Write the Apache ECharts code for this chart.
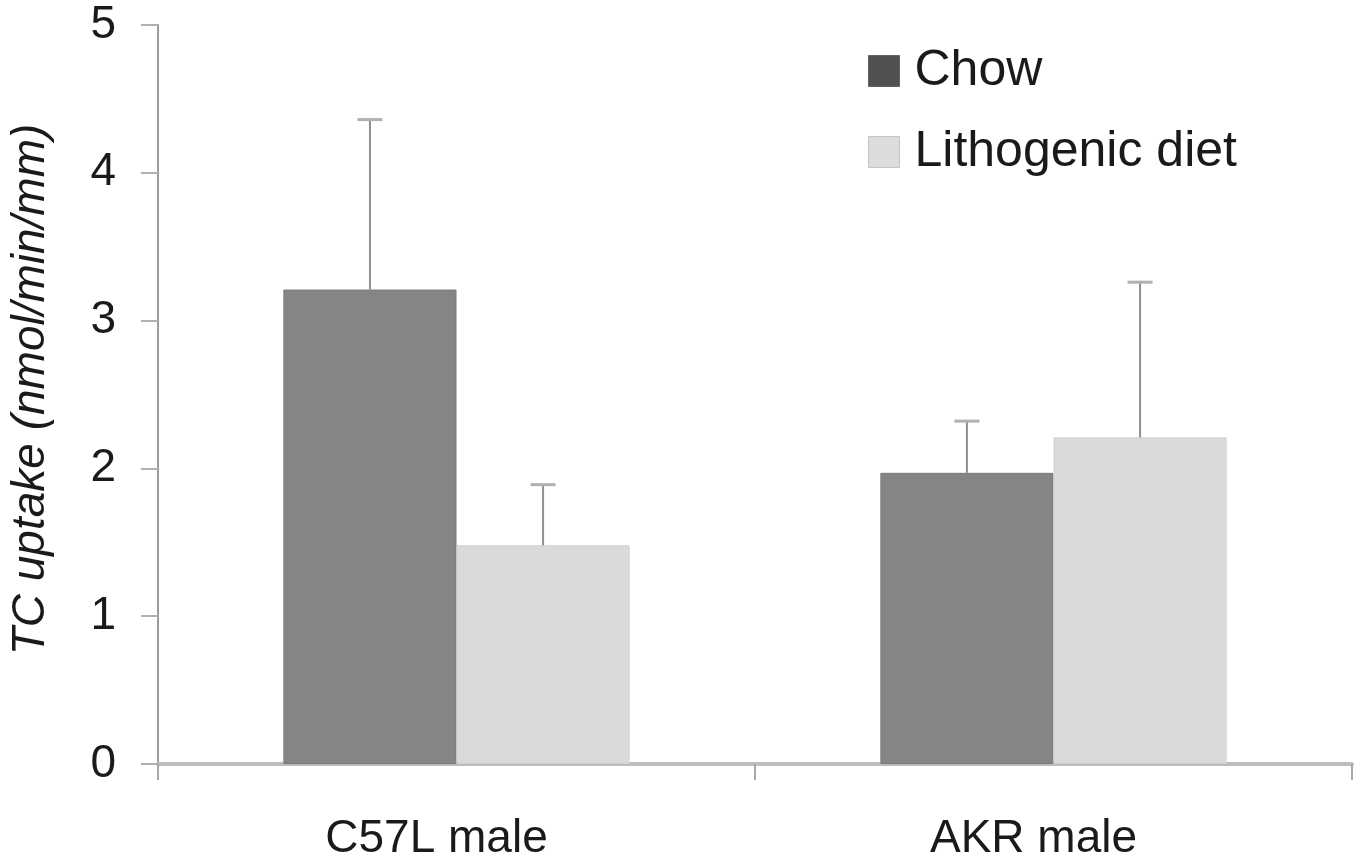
<!DOCTYPE html>
<html>
<head>
<meta charset="utf-8">
<script src="https://cdn.jsdelivr.net/npm/echarts@6/dist/echarts.min.js"></script>
<style>html,body{margin:0;padding:0;background:#fff;}#c{width:1361px;height:863px;}</style>
</head>
<body>
<div id="c"></div>
<script>
const categories = ['C57L male', 'AKR male'];
const seriesNames = ['Chow', 'Lithogenic diet'];
const chowMean = [3.21, 1.97];
const chowErr = [1.15, 0.35];
const lithoMean = [1.48, 2.21];
const lithoErr = [0.41, 1.05];
const yTicks = [0, 1, 2, 3, 4, 5];

const FONT = '"Liberation Sans", Arial, sans-serif';
const CAT_GAP = 0.42;
const barColors = ['#858585', '#dadada'];

function errSeries(name, means, errs, side) {
  const data = means.map((m, i) => [i, m, m + errs[i]]);
  return {
    type: 'custom',
    name: name + ' err',
    z: 5,
    silent: true,
    renderItem: function (params, api) {
      const idx = api.value(0);
      const base = api.coord([idx, api.value(1)]);
      const top = api.coord([idx, api.value(2)]);
      const band = api.size([1, 0])[0];
      const barW = band * (1 - CAT_GAP) / 2;
      const x = base[0] + side * barW / 2;
      const capHalf = 12.5;
      return {
        type: 'group',
        children: [
          { type: 'line', shape: { x1: x, y1: base[1], x2: x, y2: top[1] }, style: { stroke: '#8f8f8f', lineWidth: 2 } },
          { type: 'line', shape: { x1: x - capHalf, y1: top[1], x2: x + capHalf, y2: top[1] }, style: { stroke: '#b0b0b0', lineWidth: 3 } }
        ]
      };
    },
    data: data
  };
}

const chart = echarts.init(document.getElementById('c'), null, { renderer: 'canvas' });
chart.setOption({
  animation: false,
  backgroundColor: '#ffffff',
  grid: { left: 157, right: 9, top: 25, bottom: 99 },
  legend: {
    orient: 'vertical',
    left: 863,
    top: 41,
    icon: 'rect',
    itemWidth: 31,
    itemHeight: 31,
    itemGap: 31,
    textStyle: { fontFamily: FONT, fontSize: 50, color: '#1a1a1a', padding: [0, 0, 0, 10] },
    data: [
      { name: seriesNames[0], itemStyle: { color: '#505050', borderColor: '#606060', borderWidth: 1 } },
      { name: seriesNames[1], itemStyle: { color: '#dcdcdc', borderColor: '#c4c4c4', borderWidth: 1 } }
    ]
  },
  xAxis: {
    type: 'category',
    data: categories,
    boundaryGap: true,
    axisLine: { show: true, lineStyle: { color: '#bdbdbd', width: 4 } },
    axisTick: { show: true, length: 16, alignWithLabel: false, lineStyle: { color: '#a8a8a8', width: 2 } },
    axisLabel: { fontFamily: FONT, fontSize: 46, color: '#1a1a1a', margin: 52, padding: [0, 40, 0, 0] },
    splitLine: { show: false }
  },
  yAxis: {
    type: 'value',
    min: yTicks[0],
    max: yTicks[yTicks.length - 1],
    interval: 1,
    name: 'TC uptake (nmol/min/mm)',
    nameLocation: 'middle',
    nameGap: 104,
    nameTextStyle: { fontFamily: FONT, fontSize: 46, fontStyle: 'italic', color: '#1a1a1a', padding: [0, 0, 0, 10] },
    axisLine: { show: true, lineStyle: { color: '#9c9c9c', width: 2 } },
    axisTick: { show: true, length: 17, lineStyle: { color: '#b0b0b0', width: 2 } },
    axisLabel: { fontFamily: FONT, fontSize: 46, color: '#1a1a1a', margin: 42 },
    splitLine: { show: false }
  },
  series: [
    {
      type: 'bar',
      name: seriesNames[0],
      data: chowMean,
      barGap: '0%',
      barCategoryGap: (CAT_GAP * 100) + '%',
      itemStyle: { color: barColors[0], borderColor: '#7a7a7a', borderWidth: 1 },
      z: 2
    },
    {
      type: 'bar',
      name: seriesNames[1],
      data: lithoMean,
      barGap: '0%',
      barCategoryGap: (CAT_GAP * 100) + '%',
      itemStyle: { color: barColors[1], borderColor: '#d0d0d0', borderWidth: 1 },
      z: 2
    },
    errSeries(seriesNames[0], chowMean, chowErr, -1),
    errSeries(seriesNames[1], lithoMean, lithoErr, 1)
  ]
});
</script>
</body>
</html>
